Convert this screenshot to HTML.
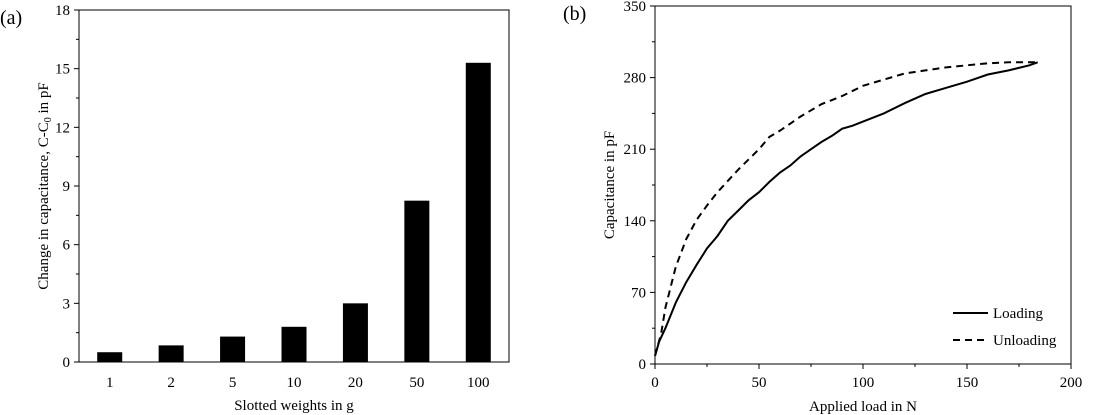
<!DOCTYPE html>
<html><head><meta charset="utf-8"><style>
body{margin:0;background:#fff;}
svg{display:block;font-family:"Liberation Serif",serif;}
</style></head><body>
<svg id="chart" width="1104" height="415" viewBox="0 0 1104 415"></svg>
<script>
const barCats=["1","2","5","10","20","50","100"];
const barVals=[0.5,0.85,1.3,1.8,3.0,8.25,15.3];
const yTicksA=[0,3,6,9,12,15,18];
const loadX=[0,2,5,10,15,20,25,30,35,40,45,50,55,60,65,70,75,80,85,90,95,100,110,120,130,140,150,160,170,180,184];
const loadY=[8,22,35,60,80,97,113,125,140,150,160,168,178,187,194,203,210,217,223,230,233,237,245,255,264,270,276,283,287,292,295];
const unX=[0,3,5,10,15,20,25,30,40,50,55,60,70,80,90,100,110,120,130,140,150,160,170,184];
const unY=[8,30,55,95,122,141,155,168,190,210,222,228,242,254,262,272,278,284,287,290,292,294,295,295];
const xTicksB=[0,50,100,150,200];
const yTicksB=[0,70,140,210,280,350];
const NS="http://www.w3.org/2000/svg";
const svg=document.getElementById('chart');
function el(t,a,txt){const e=document.createElementNS(NS,t);for(const k in a)e.setAttribute(k,a[k]);if(txt!==undefined)e.textContent=txt;svg.appendChild(e);return e;}
const FS=15;
// Panel A
const A={l:79,r:509,t:10,b:362,max:18};
const ya=v=>A.b-(v/A.max)*(A.b-A.t);
let e=el('rect',{x:A.l,y:A.t,width:A.r-A.l,height:A.b-A.t,fill:'none',stroke:'#000','stroke-width':1});

yTicksA.forEach(v=>{
 e=el('line',{x1:A.l-5,x2:A.l,y1:ya(v),y2:ya(v),stroke:'#000'});
 
 if(v<18){e=el('line',{x1:A.l-3,x2:A.l,y1:ya(v+1.5),y2:ya(v+1.5),stroke:'#000'});}
 e=el('text',{x:A.l-9,y:ya(v)+5,'text-anchor':'end','font-size':FS},String(v));
 
});
const band=(A.r-A.l)/barCats.length;
barCats.forEach((c,i)=>{
 const cx=A.l+band*(i+0.5);
 e=el('rect',{x:cx-12.5,y:ya(barVals[i]),width:25,height:A.b-ya(barVals[i]),fill:'#000'});
 
 e=el('text',{x:cx,y:387,'text-anchor':'middle','font-size':FS},c);
 
});
e=el('text',{x:294,y:410,'text-anchor':'middle','font-size':FS},'Slotted weights  in g');

e=el('text',{transform:'translate(48,186) rotate(-90)','text-anchor':'middle','font-size':FS});

e.innerHTML='Change in  capacitance, C-C<tspan font-size="10" dy="3">0</tspan><tspan dy="-3"> in pF</tspan>';
e=el('text',{x:0,y:24,'font-size':20},'(a)');

// Panel B
const B={l:655,r:1071,t:6,b:364,xmax:200,ymax:350};
const xb=v=>B.l+(v/B.xmax)*(B.r-B.l);
const yb=v=>B.b-(v/B.ymax)*(B.b-B.t);
e=el('rect',{x:B.l,y:B.t,width:B.r-B.l,height:B.b-B.t,fill:'none',stroke:'#000'});

yTicksB.forEach(v=>{
 e=el('line',{x1:B.l-5,x2:B.l,y1:yb(v),y2:yb(v),stroke:'#000'});
 if(v<350){e=el('line',{x1:B.l-3,x2:B.l,y1:yb(v+35),y2:yb(v+35),stroke:'#000'});}
 e=el('text',{x:B.l-9,y:yb(v)+5,'text-anchor':'end','font-size':FS},String(v));
 
});
xTicksB.forEach(v=>{
 e=el('line',{x1:xb(v),x2:xb(v),y1:B.b,y2:B.b+5,stroke:'#000'});
 if(v<200){e=el('line',{x1:xb(v+25),x2:xb(v+25),y1:B.b,y2:B.b+3,stroke:'#000'});}
 e=el('text',{x:xb(v),y:387,'text-anchor':'middle','font-size':FS},String(v));
 
});
const pts=(xs,ys)=>xs.map((x,i)=>xb(x).toFixed(1)+','+yb(ys[i]).toFixed(1)).join(' ');
e=el('polyline',{points:pts(loadX,loadY),fill:'none',stroke:'#000','stroke-width':2});

e=el('polyline',{points:pts(unX,unY),fill:'none',stroke:'#000','stroke-width':2,'stroke-dasharray':'7,5'});

e=el('line',{x1:953,x2:988,y1:313,y2:313,stroke:'#000','stroke-width':2});

e=el('text',{x:993,y:318,'font-size':FS},'Loading');

e=el('line',{x1:953,x2:988,y1:340,y2:340,stroke:'#000','stroke-width':2,'stroke-dasharray':'7,5'});

e=el('text',{x:993,y:345,'font-size':FS},'Unloading');

e=el('text',{x:863,y:411,'text-anchor':'middle','font-size':FS},'Applied load in N');

e=el('text',{transform:'translate(614,185) rotate(-90)','text-anchor':'middle','font-size':FS},'Capacitance in pF');

e=el('text',{x:563,y:20,'font-size':20},'(b)');

</script>
</body></html>
